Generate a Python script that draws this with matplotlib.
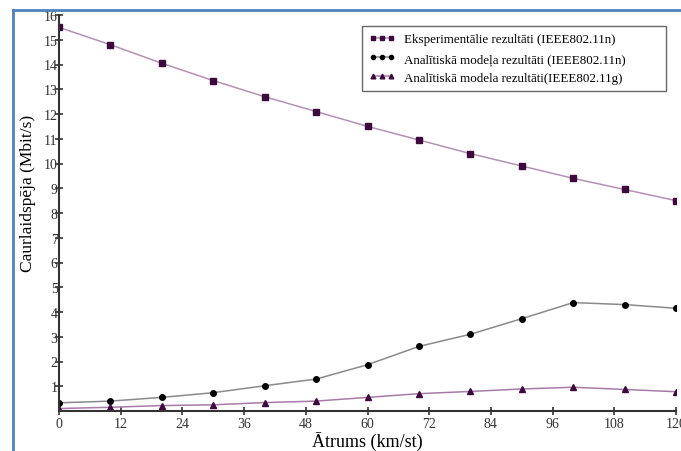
import matplotlib.pyplot as plt
import matplotlib as mpl
from matplotlib.lines import Line2D
import numpy as np

mpl.rcParams['font.family'] = ['Liberation Serif', 'DejaVu Serif']

# Throughput vs speed
speed = [0, 10, 20, 30, 40, 50, 60, 70, 80, 90, 100, 110, 120]
exp_11n = [15.5, 14.8, 14.05, 13.35, 12.7, 12.1, 11.5, 10.95, 10.4, 9.9, 9.4, 8.95, 8.5]
model_11n = [0.33, 0.4, 0.55, 0.74, 1.02, 1.29, 1.87, 2.61, 3.1, 3.73, 4.38, 4.3, 4.15]
model_11g = [0.1, 0.15, 0.22, 0.25, 0.34, 0.4, 0.55, 0.7, 0.79, 0.89, 0.96, 0.87, 0.78]

labels = ['Eksperimentālie rezultāti (IEEE802.11n)',
          'Analītiskā modeļa rezultāti (IEEE802.11n)',
          'Analītiskā modela rezultāti(IEEE802.11g)']
xticks = np.arange(0, 121, 12)
yticks = np.arange(1, 17, 1)

fig = plt.figure(figsize=(6.81, 4.52), dpi=100)
ax = fig.add_axes([59 / 681, 1 - 412 / 452, 617 / 681, 396 / 452])

ax.plot(speed, exp_11n, color='#b391b3', linewidth=1.1, marker='s', markersize=4.5,
        markerfacecolor='#3d0a3d', markeredgecolor='#3d0a3d', label=labels[0])
ax.plot(speed, model_11n, color='#8a8a8a', linewidth=1.1, marker='o', markersize=4,
        markerfacecolor='black', markeredgecolor='black', label=labels[1])
ax.plot(speed, model_11g, color='#a77ba7', linewidth=1.1, marker='^', markersize=4.5,
        markerfacecolor='#3d0a3d', markeredgecolor='#3d0a3d', label=labels[2])

ax.set_xlim(0, 120)
ax.set_ylim(0, 16)
ax.set_xticks(xticks)
ax.set_yticks(yticks)
ax.spines['top'].set_visible(False)
ax.spines['right'].set_visible(False)
for s in ('left', 'bottom'):
    ax.spines[s].set_linewidth(1.5)
    ax.spines[s].set_color('#333333')
ax.tick_params(direction='inout', length=6, width=1.2, colors='#333333',
               labelsize=10, labelcolor='#333333', pad=1)
ax.tick_params(axis='y', pad=-2)

ax.set_xlabel('Ātrums (km/st)', fontsize=13, labelpad=1)
ax.set_ylabel('Caurlaidspēja (Mbit/s)', fontsize=12.5)
ax.yaxis.set_label_coords(-0.038, 0.553)

# wide legend box, text left-aligned inside it
leg = ax.legend(loc='upper left', bbox_to_anchor=(0.491, 0.0, 0.493, 0.972), mode='expand',
                fontsize=9.4, frameon=True, fancybox=False, edgecolor='#444444',
                numpoints=3, handlelength=2.0, handletextpad=0.7, borderpad=0.55,
                labelspacing=0.55, borderaxespad=0, markerscale=0.75)
leg.get_frame().set_linewidth(1.0)

# Outer blue frame (left and top edges)
fig.add_artist(Line2D([13 / 681, 13 / 681], [0, 1 - 11 / 452], transform=fig.transFigure,
                      color='#4f81bd', linewidth=2))
fig.add_artist(Line2D([13 / 681, 1], [1 - 11 / 452, 1 - 11 / 452], transform=fig.transFigure,
                      color='#4f81bd', linewidth=2))

plt.savefig('out.png', dpi=100)
